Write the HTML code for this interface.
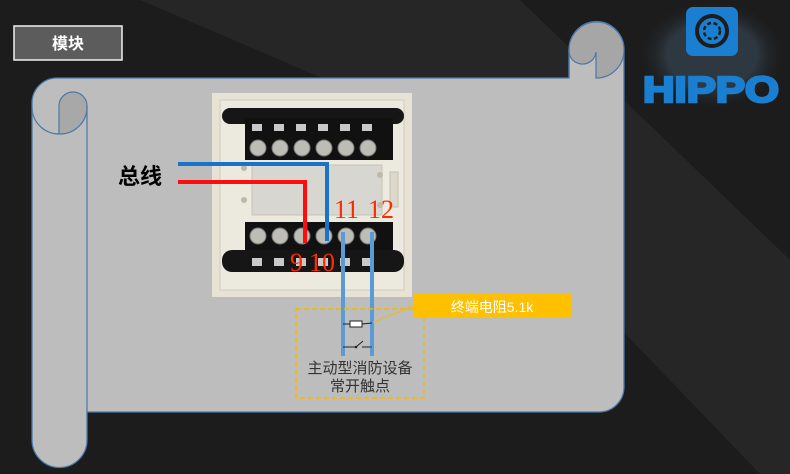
<!DOCTYPE html>
<html><head><meta charset="utf-8"><style>
html,body{margin:0;padding:0;background:#1b1b1b;}
svg{display:block}
</style></head><body>
<svg width="790" height="474" viewBox="0 0 790 474" xmlns="http://www.w3.org/2000/svg" font-family="Liberation Sans, Noto Sans CJK SC, sans-serif">
<defs>
<radialGradient id="glow" cx="0.5" cy="0.5" r="0.5"><stop offset="0.6" stop-color="#3a4a5a" stop-opacity="0.6"/><stop offset="1" stop-color="#1b1b1b" stop-opacity="0"/></radialGradient>
</defs>
<rect width="790" height="474" fill="#1c1c1c"/>
<polygon points="0,0 160,0 520,0 790,260 790,474 760,474 420,120 140,0" fill="#262626"/>
<!-- title box -->
<rect x="14" y="26" width="108" height="34" fill="#5c5c5c" stroke="#f0f0f0" stroke-width="1.5"/>
<text x="68" y="49" fill="#fff" font-size="16" font-weight="bold" text-anchor="middle">模块</text>
<!-- scroll -->
<path d="M57,78 H569 V50 A27,28 0 0 1 624,50 V387 A25,25 0 0 1 599,412 H87 V440 A27.5,27.5 0 0 1 32,440 V103 A25,25 0 0 1 57,78 Z" fill="#bdbdbd" stroke="#4a78aa" stroke-width="1.3"/>
<path d="M59,106 A14,14 0 0 1 87,106 A27,27 0 0 1 59,134 Z" fill="#a8a8a8" stroke="#4a78aa" stroke-width="1.2"/>
<path d="M32,107 A27,27 0 0 0 59,134" fill="none" stroke="#4a78aa" stroke-width="1.2"/>
<line x1="87" y1="106" x2="87" y2="412" stroke="#4a78aa" stroke-width="1.2"/>
<path d="M596,78 A27.5,28 0 1 0 569,50 A13.5,13 0 0 0 596,52 Z" fill="#a6a6a6" stroke="#4a78aa" stroke-width="1.2"/>
<line x1="569" y1="50" x2="569" y2="78" stroke="#4a78aa" stroke-width="1.2"/>
<!-- module photo -->
<rect x="212" y="93" width="200" height="204" fill="#e6e2d4"/>
<rect x="220" y="100" width="184" height="190" fill="#ece9de" stroke="#cfcabb"/>
<rect x="252" y="165" width="130" height="50" fill="#d8d6d0" stroke="#c8c3b4"/>
<circle cx="244" cy="168" r="3" fill="#bfb9a8"/><circle cx="244" cy="200" r="3" fill="#bfb9a8"/>
<circle cx="380" cy="175" r="3" fill="#bfb9a8"/><circle cx="380" cy="205" r="3" fill="#bfb9a8"/>
<rect x="390" y="172" width="8" height="35" fill="#dcd8cb" stroke="#c4bfb0"/>
<!-- top strip -->
<rect x="222" y="108" width="182" height="16" rx="8" fill="#161616"/>
<rect x="245" y="118" width="148" height="42" fill="#111"/>
<g fill="#c9c9c9">
<rect x="252" y="124" width="10" height="7"/><rect x="274" y="124" width="10" height="7"/><rect x="296" y="124" width="10" height="7"/><rect x="318" y="124" width="10" height="7"/><rect x="340" y="124" width="10" height="7"/><rect x="362" y="124" width="10" height="7"/>
</g>
<g fill="#bdbdb5" stroke="#777" stroke-width="1">
<circle cx="258" cy="148" r="8"/><circle cx="280" cy="148" r="8"/><circle cx="302" cy="148" r="8"/><circle cx="324" cy="148" r="8"/><circle cx="346" cy="148" r="8"/><circle cx="368" cy="148" r="8"/>
</g>
<!-- bottom strip -->
<rect x="245" y="222" width="148" height="40" fill="#111"/>
<rect x="222" y="250" width="182" height="22" rx="10" fill="#161616"/>
<g fill="#bdbdb5" stroke="#777" stroke-width="1">
<circle cx="258" cy="236" r="8"/><circle cx="280" cy="236" r="8"/><circle cx="302" cy="236" r="8"/><circle cx="324" cy="236" r="8"/><circle cx="346" cy="236" r="8"/><circle cx="368" cy="236" r="8"/>
</g>
<g fill="#c9c9c9">
<rect x="252" y="258" width="10" height="8"/><rect x="274" y="258" width="10" height="8"/><rect x="296" y="258" width="10" height="8"/><rect x="318" y="258" width="10" height="8"/><rect x="340" y="258" width="10" height="8"/><rect x="362" y="258" width="10" height="8"/>
</g>
<!-- bus wires -->
<text x="118" y="184" font-size="22" font-weight="bold" fill="#000">总线</text>
<polyline points="178,164 327,164 327,241" fill="none" stroke="#1a73c8" stroke-width="4"/>
<polyline points="178,182 305,182 305,243" fill="none" stroke="#ff0d0d" stroke-width="4"/>
<!-- light blue wires -->
<line x1="343" y1="232" x2="343" y2="356" stroke="#5b9bd5" stroke-width="4"/>
<line x1="372" y1="232" x2="372" y2="356" stroke="#5b9bd5" stroke-width="4"/>
<!-- numbers -->
<g font-family="Liberation Serif, serif" font-size="26" fill="#ff2a00">
<text x="334" y="218">11</text><text x="368" y="218">12</text>
<text x="290" y="271">9</text><text x="309" y="271">10</text>
</g>
<!-- resistor & switch -->
<line x1="343" y1="324" x2="350" y2="324" stroke="#222"/>
<rect x="350" y="321" width="12" height="6" fill="#fff" stroke="#222"/>
<line x1="362" y1="324" x2="372" y2="323" stroke="#222"/>
<line x1="343" y1="347" x2="356" y2="347" stroke="#222"/>
<circle cx="356" cy="347" r="1.3" fill="#222"/>
<line x1="356" y1="347" x2="363" y2="341" stroke="#222"/>
<line x1="362" y1="347" x2="372" y2="347" stroke="#555" stroke-width="1.5"/>
<line x1="373" y1="322" x2="414" y2="306" stroke="#f5b800" stroke-width="1"/>
<!-- dashed box -->
<rect x="296" y="309" width="128" height="89" fill="none" stroke="#f5b800" stroke-width="1.5" stroke-dasharray="5,3"/>
<text x="360" y="373" font-size="15" fill="#333" text-anchor="middle">主动型消防设备</text>
<text x="360" y="391" font-size="15" fill="#333" text-anchor="middle">常开触点</text>
<rect x="414" y="294" width="157" height="24" fill="#ffc000"/>
<text x="492" y="312" font-size="14" fill="#fff" text-anchor="middle">终端电阻5.1k</text>
<!-- logo -->
<ellipse cx="712" cy="55" rx="75" ry="55" fill="url(#glow)"/>
<rect x="686" y="7" width="52" height="49" rx="7" fill="#1a7fd0"/>
<circle cx="712" cy="31" r="15" fill="none" stroke="#1d1d1d" stroke-width="4"/>
<circle cx="712" cy="31" r="8" fill="none" stroke="#1d1d1d" stroke-width="2.5" stroke-dasharray="4,2.5"/>
<text x="711" y="102" font-size="36" font-weight="bold" fill="#1a7fd0" stroke="#1a7fd0" stroke-width="2.5" text-anchor="middle" textLength="136" lengthAdjust="spacingAndGlyphs">HIPPO</text>
</svg>
</body></html>
